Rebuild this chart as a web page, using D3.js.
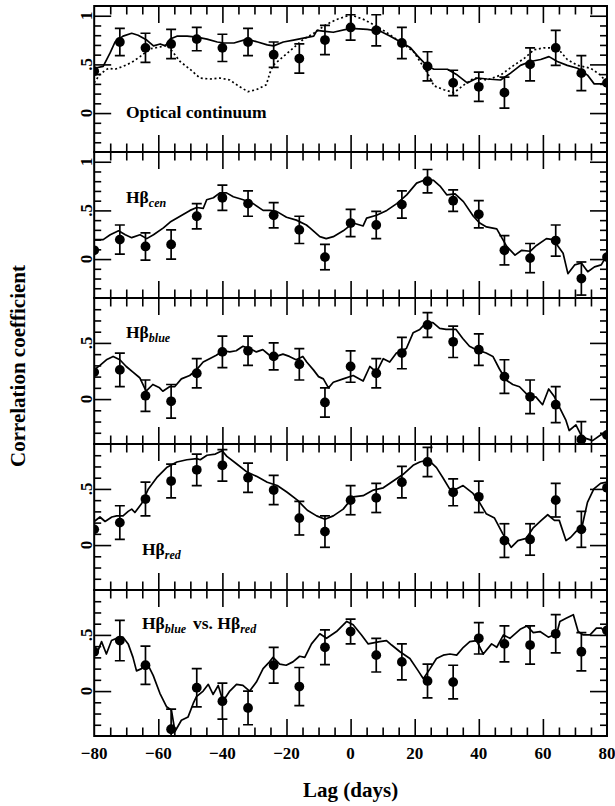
<!DOCTYPE html>
<html><head><meta charset="utf-8">
<script src="https://cdn.jsdelivr.net/npm/d3@7"></script>
<style>html,body{margin:0;padding:0;background:#fff;}svg{display:block;}</style>
</head><body>
<svg id="chart" width="615" height="806"></svg>
<script>
// ---------- DATA ----------
const lags = [-80,-72,-64,-56,-48,-40,-32,-24,-16,-8,0,8,16,24,32,40,48,56,64,72,80];
const xMajorTicks = [-80,-60,-40,-20,0,20,40,60,80];
const xTickLabels = ["\u221280","\u221260","\u221240","\u221220","0","20","40","60","80"];

// Panel 1: Optical continuum
const optR = [0.43,0.73,0.67,0.71,0.76,0.67,0.73,0.60,0.56,0.75,0.88,0.85,0.72,0.48,0.31,0.27,0.21,0.50,0.67,0.41,0.31];
const optE = [0,0.14,0.15,0.15,0.12,0.14,0.14,0.13,0.15,0.15,0.13,0.16,0.16,0.15,0.13,0.15,0.16,0.17,0.18,0.18,0];
const optSolid = [[-80,0.46],[-77.2,0.48],[-75,0.62],[-73.5,0.73],[-71,0.79],[-68.3,0.82],[-66.3,0.80],[-63.6,0.75],[-61.5,0.69],[-59.4,0.71],[-57.8,0.69],[-56.3,0.76],[-54.2,0.79],[-51,0.79],[-48,0.78],[-44.8,0.76],[-41.6,0.73],[-39.5,0.72],[-36.4,0.72],[-32.3,0.76],[-29,0.73],[-26,0.70],[-24,0.69],[-21,0.73],[-17.8,0.75],[-14.7,0.77],[-11.5,0.79],[-10.5,0.85],[-8,0.84],[-5.4,0.83],[0,0.87],[5.2,0.86],[9.3,0.84],[12.4,0.79],[15.6,0.73],[18.7,0.67],[20.8,0.59],[24,0.48],[26,0.45],[30.2,0.45],[33.3,0.39],[36.4,0.31],[39.5,0.36],[42.6,0.35],[46.8,0.34],[49.9,0.41],[53,0.49],[56.1,0.53],[59.3,0.55],[61.9,0.58],[64.5,0.53],[67.6,0.49],[70.8,0.46],[73.9,0.39],[76,0.30],[78,0.30],[80,0.31]];
const optDotted = [[-80,0.31],[-78.2,0.40],[-75.6,0.46],[-73.5,0.45],[-71,0.48],[-68.3,0.52],[-65.7,0.58],[-62.6,0.66],[-59.4,0.68],[-57.4,0.70],[-55.3,0.62],[-53.2,0.53],[-50.1,0.45],[-47,0.36],[-43.9,0.35],[-40.8,0.36],[-37.7,0.34],[-34.6,0.27],[-32,0.22],[-29.4,0.24],[-26.3,0.29],[-25.2,0.41],[-24.2,0.49],[-21,0.58],[-17.8,0.67],[-14.7,0.76],[-11.5,0.82],[-7.6,0.91],[-4.5,0.96],[0,1.01],[4.2,0.96],[9.3,0.87],[15.6,0.73],[19.7,0.63],[24,0.41],[26,0.28],[29.1,0.24],[32.3,0.21],[35.4,0.29],[38.5,0.36],[42.6,0.34],[46.8,0.39],[50.9,0.49],[54.1,0.56],[57.2,0.65],[60.3,0.67],[64.5,0.67],[67.6,0.55],[70.8,0.49],[74.9,0.46],[78,0.39],[80,0.31]];

// Panel 2: Hβ cen
const cenR = [0.09,0.20,0.13,0.15,0.44,0.63,0.57,0.45,0.30,0.02,0.37,0.35,0.56,0.80,0.60,0.46,0.09,0.01,0.19,-0.20,0.02];
const cenE = [0,0.15,0.14,0.15,0.13,0.13,0.13,0.13,0.14,0.13,0.14,0.14,0.14,0.12,0.11,0.14,0.15,0.15,0.16,0.17,0];
const cenLine = [[-80,0.20],[-77.2,0.20],[-75,0.25],[-72.4,0.29],[-70.3,0.25],[-68.3,0.22],[-65.7,0.25],[-63.6,0.21],[-61.5,0.25],[-58.4,0.32],[-56.3,0.38],[-53.2,0.44],[-50.1,0.50],[-48,0.53],[-46,0.52],[-44.9,0.61],[-42.8,0.63],[-40.8,0.68],[-38.7,0.68],[-36.6,0.64],[-33.5,0.61],[-30.4,0.57],[-27.3,0.50],[-25.2,0.50],[-23.1,0.49],[-20,0.43],[-16.9,0.40],[-13.8,0.35],[-12.7,0.32],[-9.6,0.23],[-7.6,0.21],[-5.4,0.23],[-2.3,0.29],[0.8,0.37],[3.9,0.34],[5,0.42],[8.1,0.45],[11.3,0.50],[14.4,0.57],[17.5,0.66],[20.6,0.78],[23.7,0.82],[25.8,0.81],[27.9,0.75],[30,0.66],[32.6,0.67],[35.2,0.59],[38.3,0.44],[40.3,0.37],[42.4,0.33],[45.6,0.31],[48.7,0.13],[51.3,0.04],[53.4,0.09],[56,0.08],[58,0.14],[61.1,0.21],[63.2,0.20],[66.3,0.06],[67.8,-0.15],[69.9,-0.06],[72,-0.04],[74,-0.13],[76.1,-0.08],[78.2,-0.06],[80,0.04]];

// Panel 3: Hβ blue
const blueR = [0.24,0.26,0.03,-0.02,0.23,0.42,0.43,0.38,0.31,-0.03,0.29,0.23,0.41,0.66,0.51,0.44,0.20,0.02,-0.05,-0.36,-0.32];
const blueE = [0,0.15,0.14,0.15,0.13,0.14,0.13,0.12,0.14,0.13,0.14,0.13,0.14,0.11,0.14,0.14,0.15,0.15,0.16,0.16,0];
const blueLine = [[-80,0.26],[-78.2,0.30],[-76.2,0.35],[-74.1,0.38],[-72,0.35],[-70,0.29],[-67.9,0.24],[-65.8,0.19],[-63.8,0.07],[-61.7,0.13],[-59.6,0.10],[-58.6,0.07],[-56.5,0.11],[-54.9,0.11],[-52.8,0.18],[-50.2,0.21],[-48.1,0.26],[-46,0.33],[-44,0.36],[-41.9,0.39],[-39.8,0.43],[-37.7,0.42],[-35.7,0.43],[-33.6,0.47],[-31.5,0.45],[-29.4,0.42],[-27.4,0.44],[-25.3,0.39],[-23.2,0.38],[-21.1,0.40],[-19.1,0.38],[-17,0.35],[-14.9,0.38],[-13.7,0.33],[-11.6,0.26],[-10,0.20],[-8.5,0.18],[-6.9,0.10],[-5.4,0.15],[-2.3,0.18],[0.8,0.21],[3.9,0.16],[6,0.29],[8.1,0.24],[10.2,0.36],[12.2,0.33],[14.3,0.41],[17.4,0.45],[19.5,0.59],[21.6,0.62],[23.6,0.68],[25.7,0.68],[27.8,0.63],[29.8,0.62],[32.9,0.62],[35,0.54],[37.1,0.47],[39.2,0.44],[42.3,0.41],[44.4,0.38],[46.4,0.27],[48.5,0.17],[50.6,0.13],[52.7,0.11],[55.8,0.02],[57.8,0.02],[59.9,-0.05],[61.8,0.09],[63.6,0.02],[65.1,-0.07],[67.2,-0.19],[68.2,-0.28],[70.3,-0.23],[71.9,-0.32],[73.4,-0.35],[75.5,-0.37],[78,-0.32],[80,-0.30]];

// Panel 4: Hβ red
const redR = [0.14,0.20,0.41,0.57,0.67,0.71,0.60,0.49,0.24,0.12,0.40,0.42,0.56,0.74,0.47,0.43,0.04,0.05,0.40,0.14,0.51];
const redE = [0,0.15,0.15,0.15,0.14,0.14,0.13,0.13,0.15,0.14,0.13,0.13,0.14,0.13,0.12,0.14,0.15,0.14,0.15,0.16,0];
const redLine = [[-80,0.21],[-78.2,0.25],[-76.6,0.21],[-74.5,0.25],[-73,0.26],[-71,0.26],[-69.4,0.30],[-68.3,0.32],[-67.3,0.29],[-65.2,0.37],[-63.1,0.50],[-60.5,0.60],[-57.4,0.69],[-54.2,0.74],[-51.1,0.76],[-48,0.77],[-46.9,0.76],[-44.8,0.80],[-42.2,0.81],[-40.1,0.84],[-38.6,0.79],[-35.4,0.72],[-32.3,0.65],[-29.2,0.61],[-26,0.56],[-22.9,0.53],[-19.8,0.47],[-16.6,0.40],[-13.5,0.31],[-10.6,0.26],[-8,0.23],[-5.4,0.26],[-2.3,0.32],[0.8,0.43],[3.9,0.44],[7.1,0.49],[10.2,0.51],[13.3,0.57],[16.4,0.63],[19.5,0.71],[21.6,0.74],[24.2,0.76],[26.8,0.69],[28.8,0.60],[30.9,0.50],[33,0.50],[35.1,0.53],[38.2,0.46],[40.2,0.38],[42.3,0.28],[44.9,0.24],[47.5,0.10],[50.1,-0.02],[52.2,0.04],[54.8,0.06],[56.9,0.15],[59.5,0.22],[61.5,0.27],[63.6,0.22],[65.1,0.22],[67.2,0.04],[68.7,0.07],[70.3,0.12],[72.1,0.15],[73.9,0.38],[75.9,0.50],[78,0.55],[80,0.56]];

// Panel 5: Hβ blue vs. Hβ red
const bvrR = [0.35,0.45,0.23,-0.34,0.03,-0.09,-0.15,0.23,0.04,0.39,0.53,0.32,0.26,0.09,0.08,0.47,0.42,0.41,0.51,0.35,0.54];
const bvrE = [0,0.18,0.17,0.18,0.17,0.16,0.15,0.16,0.17,0.155,0.11,0.15,0.16,0.15,0.15,0.14,0.16,0.17,0.17,0.17,0];
const bvrLine = [[-80,0.32],[-78.8,0.36],[-77.7,0.44],[-76.2,0.33],[-74.6,0.45],[-73,0.47],[-71,0.48],[-69.4,0.42],[-67.9,0.30],[-66.8,0.18],[-65.2,0.20],[-63.7,0.26],[-61.6,0.14],[-59.5,-0.02],[-57.4,-0.14],[-55.9,-0.17],[-54.8,-0.36],[-52.8,-0.26],[-50.7,-0.23],[-49.1,-0.11],[-48.1,-0.05],[-46,0.00],[-44.4,0.06],[-42.9,-0.03],[-41.3,0.05],[-39.8,-0.09],[-37.7,0.00],[-35.6,0.06],[-33.6,0.05],[-31.5,0.00],[-29.4,0.08],[-27.3,0.20],[-25.3,0.26],[-24.2,0.30],[-22.1,0.24],[-20.1,0.23],[-18,0.26],[-15.9,0.31],[-14.3,0.30],[-12.2,0.42],[-9.6,0.51],[-7.5,0.47],[-4.4,0.53],[-1.2,0.62],[0.8,0.59],[3.4,0.50],[5.5,0.42],[9.1,0.44],[11.2,0.45],[12.8,0.41],[15.4,0.35],[18.5,0.29],[21.1,0.18],[22.7,0.11],[24.8,0.20],[26.8,0.29],[28.9,0.32],[31,0.33],[33.1,0.32],[35.2,0.39],[37.2,0.44],[39.3,0.45],[41.4,0.33],[44,0.42],[45.6,0.39],[47.7,0.50],[49.7,0.47],[52.9,0.55],[55,0.58],[57,0.52],[59.1,0.53],[61.7,0.48],[64.3,0.51],[65.3,0.62],[67.4,0.65],[69.5,0.68],[71,0.53],[72.6,0.50],[74.7,0.50],[76.7,0.56],[78.3,0.56],[80,0.50]];

const yDomainTall = [-0.4, 1.1];
const yDomainShort = [-0.4, 0.9];

// ---------- LAYOUT ----------
const svg = d3.select("#chart");
const FONT = "'Liberation Serif','Times New Roman',serif";
const X0 = 94.2, X1 = 607;
const panelTop = 6, panelH = 146;
const x = d3.scaleLinear().domain([-80, 80]).range([X0, X1]);

const panels = [
  {pts: optR, err: optE, lines: [{d: optSolid, dash: null}, {d: optDotted, dash: "2,2.6"}], dom: yDomainTall, yLabels: [1, 0.5, 0]},
  {pts: cenR, err: cenE, lines: [{d: cenLine, dash: null}], dom: yDomainTall, yLabels: [1, 0.5, 0]},
  {pts: blueR, err: blueE, lines: [{d: blueLine, dash: null}], dom: yDomainShort, yLabels: [0.5, 0]},
  {pts: redR, err: redE, lines: [{d: redLine, dash: null}], dom: yDomainShort, yLabels: [0.5, 0]},
  {pts: bvrR, err: bvrE, lines: [{d: bvrLine, dash: null}], dom: yDomainShort, yLabels: [0.5, 0]}
];

const fmtY = v => v === 1 ? "1" : v === 0.5 ? ".5" : "0";
const xMinor = d3.range(-75, 80, 5).filter(v => v % 20 !== 0);
const xMajorInner = xMajorTicks.filter(v => v > -80 && v < 80);

panels.forEach((p, i) => {
  const top = panelTop + i * panelH, bot = top + panelH;
  const y = d3.scaleLinear().domain(p.dom).range([bot, top]);
  const g = svg.append("g");
  const clipId = "clip" + i;
  svg.append("clipPath").attr("id", clipId).append("rect")
    .attr("x", X0).attr("y", top).attr("width", X1 - X0).attr("height", panelH);

  const ySteps = d3.range(Math.round(p.dom[0]*10)+1, Math.round(p.dom[1]*10)).map(k => k/10);
  const yMinor = ySteps.filter(v => Math.abs(v*2 - Math.round(v*2)) > 1e-6);
  const yMajor = ySteps.filter(v => Math.abs(v*2 - Math.round(v*2)) < 1e-6);
  [d3.axisBottom(x).tickValues(xMinor).tickSize(-8.5).tickFormat(""),
   d3.axisBottom(x).tickValues(xMajorInner).tickSize(-17).tickFormat("")]
    .forEach(a => g.append("g").attr("transform", `translate(0,${bot})`).call(a));
  [d3.axisTop(x).tickValues(xMinor).tickSize(-8.5).tickFormat(""),
   d3.axisTop(x).tickValues(xMajorInner).tickSize(-17).tickFormat("")]
    .forEach(a => g.append("g").attr("transform", `translate(0,${top})`).call(a));
  [d3.axisLeft(y).tickValues(yMinor).tickSize(-7).tickFormat(""),
   d3.axisLeft(y).tickValues(yMajor).tickSize(-17).tickFormat("")]
    .forEach(a => g.append("g").attr("transform", `translate(${X0},0)`).call(a));
  [d3.axisRight(y).tickValues(yMinor).tickSize(-7).tickFormat(""),
   d3.axisRight(y).tickValues(yMajor).tickSize(-17).tickFormat("")]
    .forEach(a => g.append("g").attr("transform", `translate(${X1},0)`).call(a));
  g.selectAll(".domain").remove();
  g.selectAll(".tick line").attr("stroke", "#000").attr("stroke-width", 1.6);

  g.append("rect").attr("x", X0).attr("y", top).attr("width", X1 - X0).attr("height", panelH)
    .attr("fill", "none").attr("stroke", "#000").attr("stroke-width", 2);

  p.yLabels.forEach(v => {
    g.append("text").attr("transform", `translate(91.5,${y(v)}) rotate(-90)`)
      .attr("text-anchor", "middle").attr("font-family", FONT).attr("font-weight", "bold")
      .attr("font-size", 17).text(fmtY(v));
  });

  const data = g.append("g").attr("clip-path", `url(#${clipId})`);
  const line = d3.line().x(d => x(d[0])).y(d => y(d[1]));
  p.lines.forEach(l => {
    data.append("path").attr("d", line(l.d)).attr("fill", "none").attr("stroke", "#000")
      .attr("stroke-width", 1.7).attr("stroke-dasharray", l.dash)
      .attr("stroke-linejoin", "round");
  });
  lags.forEach((lag, j) => {
    const v = p.pts[j], e = p.err[j], cx = x(lag);
    if (e > 0) {
      data.append("line").attr("x1", cx).attr("x2", cx).attr("y1", y(v - e)).attr("y2", y(v + e))
        .attr("stroke", "#000").attr("stroke-width", 1.7);
      [v - e, v + e].forEach(w => data.append("line").attr("x1", cx - 5).attr("x2", cx + 5)
        .attr("y1", y(w)).attr("y2", y(w)).attr("stroke", "#000").attr("stroke-width", 1.7));
    }
    data.append("circle").attr("cx", cx).attr("cy", y(v)).attr("r", 4.9).attr("fill", "#000");
  });
});

const bottomY = panelTop + 5 * panelH;
xMajorTicks.forEach((v, k) => {
  svg.append("text").attr("x", x(v)).attr("y", bottomY + 23).attr("text-anchor", "middle")
    .attr("font-family", FONT).attr("font-weight", "bold").attr("font-size", 17).text(xTickLabels[k]);
});

svg.append("text").attr("x", x(0)).attr("y", 797).attr("text-anchor", "middle")
  .attr("font-family", FONT).attr("font-weight", "bold").attr("font-size", 21).text("Lag (days)");
svg.append("text").attr("transform", "translate(25,366) rotate(-90)").attr("text-anchor", "middle")
  .attr("font-family", FONT).attr("font-weight", "bold").attr("font-size", 21).text("Correlation coefficient");

function label(xp, yp, parts) {
  const t = svg.append("text").attr("x", xp).attr("y", yp).attr("font-family", FONT)
    .attr("font-weight", "bold").attr("font-size", 17.5);
  let shift = 0;
  parts.forEach(pt => {
    const s = t.append("tspan").text(pt.t);
    if (pt.x !== undefined) s.attr("x", pt.x);
    if (pt.sub) { s.attr("font-size", 12).attr("font-style", "italic").attr("dy", 4 - shift); shift = 4; }
    else { s.attr("dy", 0 - shift); shift = 0; }
  });
}
label(126, 118, [{t: "Optical continuum"}]);
label(126, 203, [{t: "H\u03b2"}, {t: "cen", sub: true}]);
label(126, 338, [{t: "H\u03b2"}, {t: "blue", sub: true}]);
label(142, 555, [{t: "H\u03b2"}, {t: "red", sub: true}]);
label(142, 629, [{t: "H\u03b2"}, {t: "blue", sub: true}, {t: "vs. H\u03b2", x: 193}, {t: "red", sub: true}]);
</script>
</body></html>
